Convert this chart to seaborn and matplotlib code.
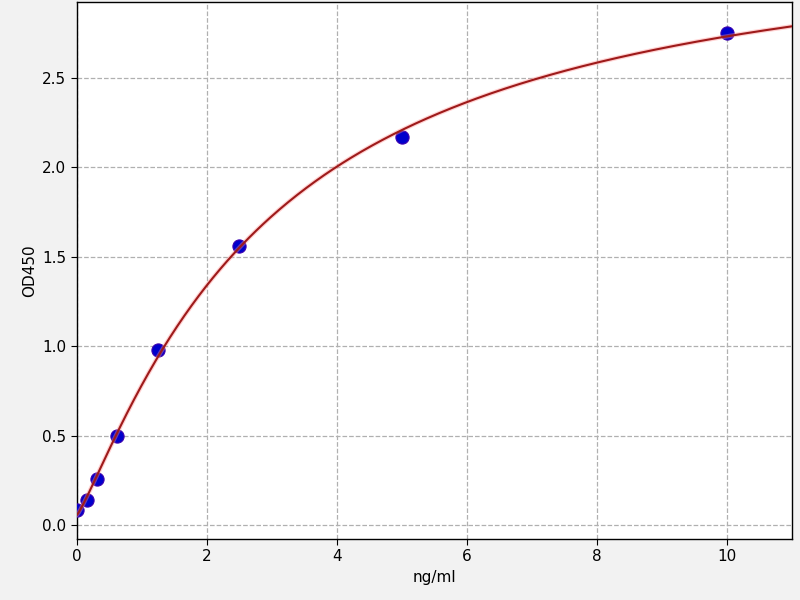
import numpy as np
import matplotlib
matplotlib.use('Agg')
import matplotlib.pyplot as plt
import pandas as pd
import seaborn as sns

conc = [0.0, 0.156, 0.3125, 0.625, 1.25, 2.5, 5.0, 10.0]
od450 = [0.085, 0.14, 0.257, 0.50, 0.98, 1.56, 2.17, 2.75]
x_ticks = [0, 2, 4, 6, 8, 10]
y_ticks = [0.0, 0.5, 1.0, 1.5, 2.0, 2.5]


def four_pl(x, p):
    a, b, c, d = p
    return d + (a - d) / (1.0 + (np.maximum(x, 1e-9) / c) ** b)


def fit_4pl(x, y, p0, n_iter=200):
    # small Levenberg-Marquardt, no scipy needed
    p = np.array(p0, dtype=float)
    lam = 1e-2
    for _ in range(n_iter):
        r = y - four_pl(x, p)
        J = np.zeros((len(x), 4))
        for k in range(4):
            dp = np.zeros(4)
            dp[k] = 1e-6 * max(abs(p[k]), 1.0)
            J[:, k] = (four_pl(x, p + dp) - four_pl(x, p)) / dp[k]
        A = J.T @ J
        g = J.T @ r
        step = np.linalg.solve(A + lam * np.diag(np.diag(A)), g)
        p_new = p + step
        if p_new[2] > 0 and np.sum((y - four_pl(x, p_new)) ** 2) < np.sum(r ** 2):
            p = p_new
            lam *= 0.3
        else:
            lam *= 10
    return p


x = np.array(conc)
y = np.array(od450)
params = fit_4pl(x, y, [0.08, 1.2, 3.0, 3.3])

xs = np.linspace(0, 11, 400)
curve = pd.DataFrame({'x': xs, 'y': four_pl(xs, params)})
pts = pd.DataFrame({'ng/ml': conc, 'OD450': od450})

sns.set_style('ticks')
plt.rcParams['font.family'] = ['DejaVu Sans']

fig = plt.figure(figsize=(8, 6), dpi=100, facecolor='#f2f2f2')
ax = fig.add_axes([0.096, 0.1017, 0.894, 0.8953])
ax.set_facecolor('white')

sns.scatterplot(data=pts, x='ng/ml', y='OD450', color='#0000cc', s=90,
                edgecolor='#3a00b0', linewidth=0.8, zorder=3, ax=ax)
sns.lineplot(data=curve, x='x', y='y', color='#ff9090', linewidth=3.2,
             alpha=0.4, zorder=4, ax=ax)
sns.lineplot(data=curve, x='x', y='y', color='#9e1a1a', linewidth=1.5,
             zorder=5, ax=ax)

ax.set_xlim(0, 11)
ax.set_ylim(-0.078, 2.925)
ax.set_xticks(x_ticks)
ax.set_yticks(y_ticks)
ax.set_xticklabels([str(t) for t in x_ticks])
ax.set_yticklabels([f'{t:.1f}' for t in y_ticks])
ax.grid(True, linestyle='--', color='#b0b0b0', linewidth=0.9)
ax.set_axisbelow(True)
for s in ax.spines.values():
    s.set_color('black')
    s.set_linewidth(1.0)
ax.tick_params(labelsize=11, length=4, color='black', labelcolor='black')
ax.set_xlabel('ng/ml', fontsize=11, color='black')
ax.set_ylabel('OD450', fontsize=11, color='black')

fig.savefig('out.png', dpi=100, facecolor=fig.get_facecolor())
